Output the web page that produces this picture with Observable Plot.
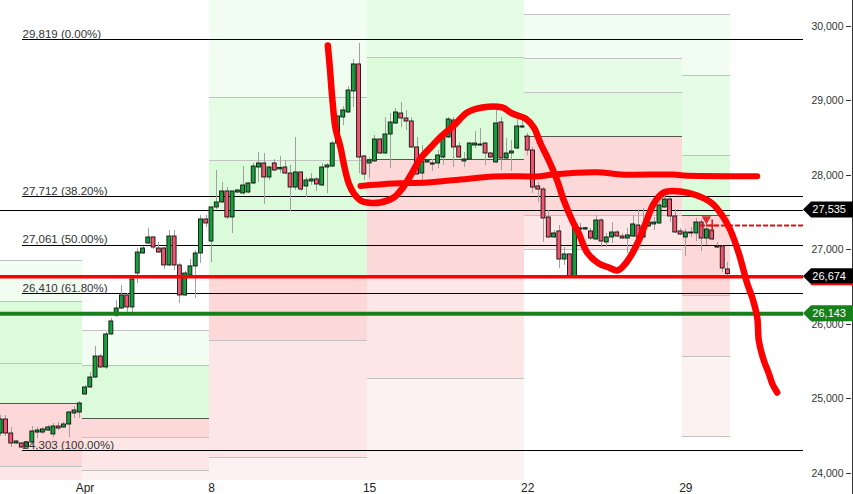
<!DOCTYPE html>
<html><head><meta charset="utf-8">
<script src="https://cdn.jsdelivr.net/npm/d3@7"></script>
<script src="https://cdn.jsdelivr.net/npm/@observablehq/plot@0.6"></script>
<style>body{margin:0;background:#fff;} #chart svg{display:block}</style>
</head><body><div id="chart"></div>
<script>
// ---- candle data (bar index = position in arrays) ----
const opens = [24533,24721,24533,24399,24399,24345,24412,24546,24546,24573,24520,24627,24614,24654,24802,24815,
25057,25151,25285,25567,25420,25863,26118,26212,26387,26226,26682,26951,27085,27166,27018,27018,26790,27179,26790,26387,26655,26777,26951,27408,
27112,27569,27636,27784,27435,27770,27757,27770,27891,28106,28160,27972,28160,28080,28106,28025,27837,28039,27851,27918,27945,27864,28106,28119,28428,28778,28845,29127,29490,28254,
28160,28187,28482,28294,28549,28697,28831,28764,28724,28375,28025,28173,28146,28160,28240,28509,28737,28388,28187,28213,28401,28401,28428,28294,28173,28710,28227,28294,28361,28643,
28522,28334,27851,27810,27435,27166,27247,26870,26938,26642,27273,27273,27247,27139,27394,27099,27166,27233,27179,27152,27179,27327,27166,27314,27341,27354,27569,27676,27448,27247,
27166,27220,27220,27367,27152,27260,27045,27045,26736];
const highs = [24775,24775,24614,24440,24412,24430,24627,24614,24614,24640,24668,24681,24681,24830,24896,24963,
25180,25352,25702,25590,25890,26078,26320,26521,26414,26628,27018,27040,27287,27180,27099,27030,27260,27260,26817,26709,26870,26991,27461,27461,
27575,28066,27904,27837,27790,27810,28119,27905,28160,28308,28294,28120,28213,28254,28200,28133,28509,28050,27972,28025,27972,28160,28160,28455,28810,28925,29194,29557,29772,28267,
28240,28536,28500,28778,28831,28898,28979,28872,28778,28509,28401,28215,28213,28334,28536,28778,28778,28442,28308,28442,28589,28630,28442,28310,28872,28778,28495,28469,28778,28737,
28563,28375,27904,27837,27529,27260,27327,27031,26950,27367,27354,27300,27287,27461,27421,27220,27367,27260,27220,27287,27461,27542,27555,27385,27435,27636,27770,27703,27542,27287,
27273,27300,27421,27408,27394,27341,27099,27058,26830];
const lows = [24493,24490,24345,24385,24332,24330,24345,24466,24520,24560,24479,24580,24600,24479,24735,24735,
25040,25140,25272,25400,25393,25850,26091,26200,26158,26158,26548,26940,27075,27005,26950,26736,26780,26723,26279,26370,26628,26346,26817,27300,
26830,27542,27620,27408,27220,27760,27745,27757,27880,27904,27609,27932,28050,28025,28010,27515,27797,27784,27703,27864,27784,27850,27757,28110,28410,28670,28830,28912,28025,27932,
27958,28170,28280,28280,28093,28680,28643,28603,28360,27998,27932,28160,28052,28093,28133,28495,28106,28225,28106,28200,28361,28390,28133,28225,28160,28066,28210,28052,28345,28630,
28267,27757,27636,27099,27150,27150,26750,26790,26640,26640,27260,27260,27126,27125,27031,27031,27085,27166,27139,26951,27165,27150,27150,27300,27260,27340,27555,27367,27220,27190,
26911,27166,27112,26978,27058,27125,27018,26696,26660];
const closes = [24721,24533,24399,24426,24345,24412,24560,24573,24587,24614,24627,24600,24654,24815,24842,24936,
25151,25285,25567,25420,25863,26038,26212,26387,26226,26602,26964,27018,27166,27031,26964,26790,27179,26790,26387,26682,26777,26951,27408,27354,
27569,27636,27784,27435,27784,27797,27864,27891,28119,28160,27972,28106,28066,28100,28025,27837,28039,27810,27932,27945,27878,28106,28133,28428,28791,28872,29140,29490,28240,28012,
28200,28482,28294,28549,28710,28845,28764,28724,28375,28012,28187,28200,28160,28267,28495,28751,28375,28240,28213,28428,28428,28415,28294,28240,28697,28227,28294,28321,28657,28657,
28334,27837,27810,27421,27166,27220,26870,26938,26642,27341,27287,27290,27152,27394,27112,27166,27233,27179,27152,27193,27341,27166,27314,27367,27367,27596,27676,27448,27233,27206,
27233,27233,27367,27152,27273,27139,27031,26750,26674];

// ---- axes ----
const xTickIdx = [16, 40, 70, 100, 130];
const xTickLabels = ["Apr", "8", "15", "22", "29"];
const yTicks = [24000, 25000, 26000, 27000, 28000, 29000, 30000];

// ---- Fibonacci retracement ----
const fibStart = 4.14;
const fibLevels = [29819, 27712, 27061, 26410, 24303];
const fibLabels = ["29,819 (0.00%)", "27,712 (38.20%)", "27,061 (50.00%)", "26,410 (61.80%)", "24,303 (100.00%)"];

// ---- horizontal lines & price tags ----
const blackLevel = 27535;
const redLevel = 26640;
const greenLevel = 26143;
const dashedLevel = 27327;
const dashedStart = 132.8;
const tagValues = [27535, 26640, 26143];
const tagLabels = ["27,535", "26,674", "26,143"];
const tagKinds = ["black", "red", "green"];

// ---- position-tool zones ----
const zoneStart = [-0.6, 15.6, 39.6, 69.6, 99.4, 129.4];
const zoneEnd = [15.6, 39.6, 69.6, 99.4, 129.4, 138.5];
const zoneBands = [
  [[26857, 26306, "g1"], [26306, 24936, "g3"], [24936, 24090, "r1"], [24090, 23900, "r2"]],
  [[25917, 25447, "g1"], [25447, 24735, "g3"], [24735, 24480, "r1"], [24480, 24036, "r2"], [24036, 23900, "r3"]],
  [[30400, 29046, "g1"], [29046, 28200, "g2"], [28200, 26628, "g3"], [26628, 25782, "r1"], [25782, 24210, "r2"], [24210, 23900, "r3"]],
  [[30400, 29583, "g2"], [29583, 28213, "g3"], [28213, 26628, "r1"], [26628, 25272, "r2"], [25272, 23900, "r3"]],
  [[30161, 29570, "g1"], [29570, 29114, "g2"], [29114, 28522, "g3"], [28522, 27461, "r1"], [27461, 27005, "r2"]],
  [[30161, 29342, "g1"], [29342, 28267, "g2"], [28267, 27461, "g3"], [27461, 26387, "r1"], [26387, 25567, "r2"], [25567, 24493, "r3"]]
];
const zoneGray = [[26857, 26306, 25473, 24090], [25917, 25447, 24480, 24036], [29046, 28200, 25782, 24210],
  [29583, 26628, 25272], [30161, 29570, 29114, 27461, 27005], [30161, 29342, 28267, 26387, 25567, 24493]];
const zoneEntry = [24936, 24735, null, 28213, 28522, 27461];

// ---- hand-drawn annotations [bar index, price] ----
const swoosh = [[62.07,29745],[62.45,29449],[62.9,29046],[63.53,28630],[64.48,28375],[65.24,28106],[66.05,27891],[67.0,27757],
[68.27,27663],[69.54,27636],[72.07,27636],[74.59,27703],[76.19,27824],[77.76,27999],[79.66,28227],[81.56,28375],[83.78,28536],
[85.98,28670],[88.52,28845],[91.37,28912],[95.16,28912],[97.06,28831],[99.58,28764],[101.16,28643],[102.43,28428],[104.01,28200],
[105.6,27931],[106.85,27663],[108.44,27394],[109.7,27220],[111.29,26964],[113.49,26817],[115.39,26763],[116.98,26723],[118.24,26790],
[119.83,26951],[121.08,27126],[122.35,27354],[123.93,27623],[125.82,27770],[128.99,27784],[132.16,27730],[135.01,27623],[136.91,27461],
[138.48,27260],[140.06,26951],[141.65,26548],[142.6,26360],[143.55,26091],[143.85,25782],[144.8,25513],[145.75,25339],[146.39,25205],[147.34,25084]];
const drawnLevel = [[68.27,27858],[74.54,27891],[80.93,27904],[87.25,27945],[93.51,27985],[102.43,27989],[104.9,28012],[113.19,28043],
[117.61,28012],[127.67,28012],[129.57,27999],[143.55,27989]];

// ---- styles ----
const bandFill = {g1: "#f1fdf1", g2: "#e6fce6", g3: "#dbfbdb", r1: "#fdd8d8", r2: "#fde6e6", r3: "#fdf2f2"};
const tagFill = {black: "#000", red: "#000", green: "#16801a"};

const candles = opens.map((o, i) => ({i, o, h: highs[i], l: lows[i], c: closes[i]}));
const bands = zoneBands.flatMap((bs, z) => bs.map(([a, b, k]) => ({x1: zoneStart[z], x2: zoneEnd[z], y1: a, y2: b, k})));
const grays = zoneGray.flatMap((ls, z) => ls.map(v => ({x1: zoneStart[z], x2: zoneEnd[z], y: v})));
const entries = zoneEntry.map((v, z) => ({x1: zoneStart[z], x2: zoneEnd[z], y: v})).filter(d => d.y != null);
const fibs = fibLevels.map((v, j) => ({v, label: fibLabels[j]}));
const xMax = 152.33;

const chart = Plot.plot({
  width: 853, height: 494,
  marginLeft: 0, marginRight: 50, marginTop: 0, marginBottom: 17,
  x: {type: "linear", domain: [-0.04, xMax]},
  y: {type: "linear", domain: [23942, 30349]},
  style: {fontFamily: "'Liberation Sans', Arial, sans-serif", background: "#fff", overflow: "hidden"},
  marks: [
    Plot.rect(bands, {x1: "x1", x2: "x2", y1: "y1", y2: "y2", fill: d => bandFill[d.k], shapeRendering: "crispEdges"}),
    Plot.ruleY(grays, {x1: "x1", x2: "x2", y: "y", stroke: "#c2c2c2", strokeWidth: 1, shapeRendering: "crispEdges"}),
    Plot.ruleY(entries, {x1: "x1", x2: "x2", y: "y", stroke: "#555", strokeWidth: 1, shapeRendering: "crispEdges"}),
    Plot.ruleY(fibs, {x1: fibStart, x2: xMax, y: "v", stroke: "#000", strokeWidth: 1, shapeRendering: "crispEdges"}),
    Plot.ruleY([blackLevel], {x1: -0.04, x2: xMax, stroke: "#000", strokeWidth: 1, shapeRendering: "crispEdges"}),
    Plot.ruleX(candles, {x: "i", y1: "l", y2: "h", stroke: "#a0a0a0", strokeWidth: 1, shapeRendering: "crispEdges"}),
    Plot.rect(candles, {x1: d => d.i - 0.37, x2: d => d.i + 0.37, y1: "o", y2: "c",
      fill: d => d.c >= d.o ? "#14a03a" : "#f2546e", stroke: "#111", strokeWidth: 0.9}),
    Plot.ruleY([redLevel], {x1: -0.04, x2: xMax, stroke: "#ff0000", strokeWidth: 3.5}),
    Plot.ruleY([greenLevel], {x1: -0.04, x2: xMax, stroke: "#17801a", strokeWidth: 4}),
    Plot.ruleY([dashedLevel], {x1: dashedStart, x2: xMax, stroke: "#e01010", strokeWidth: 2, strokeDasharray: "5,2"}),
    Plot.dot([[133.9, 27415]], {x: d => d[0], y: d => d[1], symbol: "triangle", rotate: 180, r: 3.5, fill: "#d83030"}),
    Plot.dot([[135.0, 27327]], {x: d => d[0], y: d => d[1], symbol: "plus", r: 4, stroke: "#e01010", strokeWidth: 1.5}),
    Plot.text(fibs, {x: fibStart, y: "v", text: "label", textAnchor: "start", lineAnchor: "bottom", dy: -2, fontSize: 11.5, fill: "#333"}),
    Plot.line(drawnLevel, {x: d => d[0], y: d => d[1], stroke: "#ff0000", strokeWidth: 6, curve: "catmull-rom", strokeLinecap: "round", strokeLinejoin: "round"}),
    Plot.line(swoosh, {x: d => d[0], y: d => d[1], stroke: "#ff0000", strokeWidth: 6.5, curve: "catmull-rom", strokeLinecap: "round", strokeLinejoin: "round"}),
    Plot.axisX({ticks: xTickIdx, tickFormat: d => xTickLabels[xTickIdx.indexOf(d)], tickSize: 0, tickPadding: 6, fontSize: 12, fill: "#222"}),
    Plot.axisY({anchor: "right", ticks: yTicks, tickFormat: d3.format(","), tickSize: 0, tickPadding: 40, textAnchor: "end", fontSize: 10.5, fill: "#333"})
  ]
});
document.getElementById("chart").appendChild(chart);

// right price-axis tick marks, frame edge and price tags, positioned with Plot's y scale
const ys = chart.scale("y");
const right = chart.scale("x").range[1];
const svg = d3.select(chart);
const g = svg.append("g");
yTicks.forEach(v => {
  const y = Math.round(ys.apply(v)) + 0.5;
  g.append("line").attr("x1", 846).attr("x2", 851).attr("y1", y).attr("y2", y).attr("stroke", "#333");
});
g.append("line").attr("x1", 852.5).attr("x2", 852.5).attr("y1", 0).attr("y2", 494).attr("stroke", "#333");
tagValues.forEach((v, j) => {
  const y = ys.apply(v);
  const kind = tagKinds[j];
  g.append("path").attr("d", `M${right},${y} L${right + 8},${y - 8} L853,${y - 8} L853,${y + 8} L${right + 8},${y + 8} Z`)
    .attr("fill", tagFill[kind]);
  if (kind === "red") g.append("line").attr("x1", right + 8).attr("x2", 853).attr("y1", y + 8).attr("y2", y + 8).attr("stroke", "#ff0000").attr("stroke-width", 2);
  g.append("text").attr("x", 846).attr("y", y).attr("dy", "0.36em").attr("text-anchor", "end")
    .attr("fill", "#fff").attr("font-size", 11).attr("font-family", "'Liberation Sans', Arial, sans-serif").text(tagLabels[j]);
});
</script></body></html>
